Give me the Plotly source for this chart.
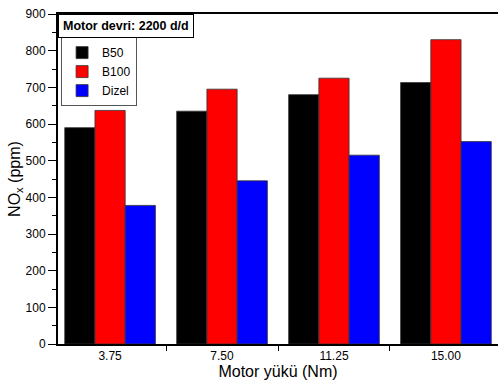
import plotly.graph_objects as go

categories = ["3.75", "7.50", "11.25", "15.00"]
b50 = [590, 635, 680, 713]
b100 = [637, 695, 725, 830]
dizel = [378, 445, 515, 552]

fig = go.Figure()
for name, vals, col in [("B50", b50, "#000000"), ("B100", b100, "#ff0000"), ("Dizel", dizel, "#0000ff")]:
    fig.add_trace(go.Bar(x=categories, y=vals, name=name,
                         marker=dict(color=col, line=dict(color="#333333", width=0.8))))

fig.update_layout(
    width=498, height=385,
    margin=dict(l=58, r=0, t=14, b=41, autoexpand=False),
    paper_bgcolor="white", plot_bgcolor="white",
    barmode="group", bargap=0.19, bargroupgap=0,
    font=dict(family="Liberation Sans, Arial", color="#000000", size=12),
    showlegend=True,
    legend=dict(x=0.007, y=0.93, xanchor="left", yanchor="top",
                bordercolor="#555555", borderwidth=1, bgcolor="white",
                font=dict(size=12), tracegroupgap=0, itemwidth=30),
    annotations=[dict(text="<b>Motor devri: 2200 d/d</b>", xref="paper", yref="paper",
                      x=0, y=1, xanchor="left", yanchor="top", showarrow=False,
                      font=dict(size=12.5), bordercolor="#000000", borderwidth=1,
                      borderpad=4, bgcolor="white")],
)
fig.update_xaxes(type="category", range=[-0.465, 3.465], showline=True, linecolor="#000000",
                 linewidth=2, mirror=True, ticks="outside", tickson="boundaries", ticklen=5,
                 tickcolor="#000000", showgrid=False, automargin=False,
                 title=dict(text="Motor yükü (Nm)", font=dict(size=16), standoff=0),
                 tickfont=dict(size=12))
fig.update_yaxes(range=[0, 900], dtick=100, showline=True, linecolor="#000000", linewidth=2,
                 ticks="outside", ticklen=8, tickcolor="#000000", showgrid=False, zeroline=False,
                 automargin=False,
                 minor=dict(dtick=50, ticks="outside", ticklen=4, tickcolor="#000000"),
                 title=dict(text="NO<sub>x</sub> (ppm)", font=dict(size=16), standoff=1),
                 tickfont=dict(size=12))
fig.write_html("out.html", config={"displayModeBar": False},
               post_script="document.body.style.margin='0';")
